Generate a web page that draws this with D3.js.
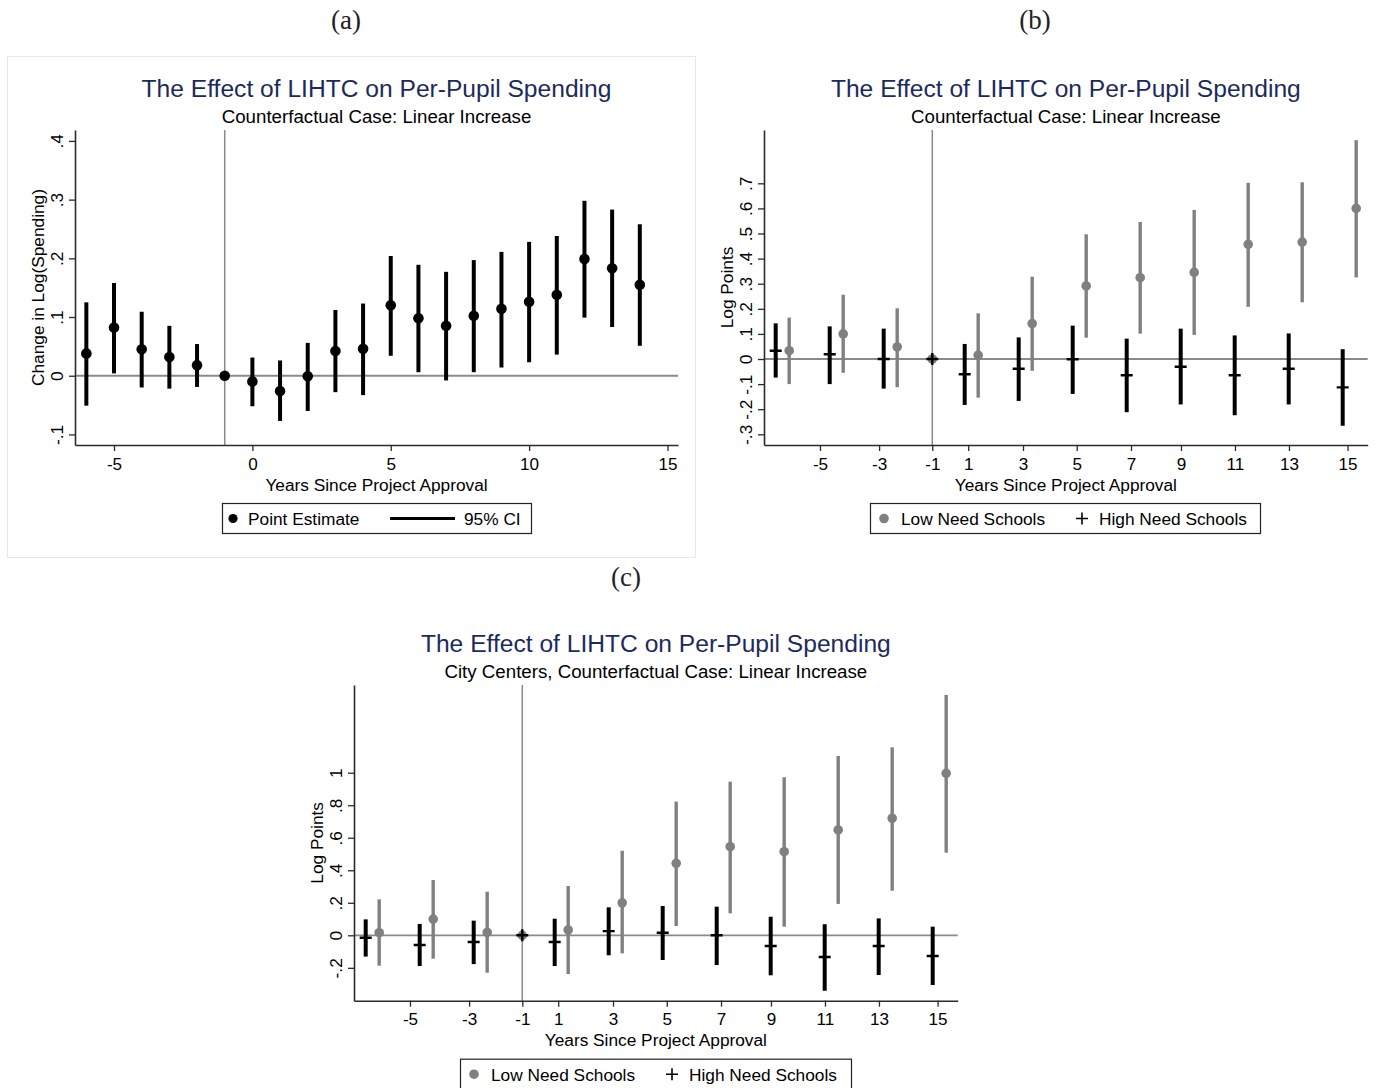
<!DOCTYPE html>
<html><head><meta charset="utf-8">
<script src="https://cdn.jsdelivr.net/npm/d3@7"></script>
<style>
body{margin:0;background:#fff}
svg{display:block}
text{font-family:"Liberation Sans",Arial,sans-serif}
</style>
</head><body>
<svg id="chart" width="1380" height="1088"></svg>
<script>
// ---------- Panel (a) data ----------
const yearsA = [-6,-5,-4,-3,-2,-1,0,1,2,3,4,5,6,7,8,9,10,11,12,13,14];
const estA = [0.038,0.082,0.045,0.032,0.018,0,-0.010,-0.026,-0.001,0.042,0.046,0.120,0.098,0.085,0.102,0.114,0.126,0.138,0.199,0.183,0.155];
const loA  = [-0.051,0.004,-0.020,-0.022,-0.019,0,-0.052,-0.077,-0.060,-0.028,-0.033,0.034,0.006,-0.008,0.006,0.014,0.023,0.036,0.099,0.083,0.051];
const hiA  = [0.125,0.158,0.109,0.085,0.054,0,0.031,0.026,0.056,0.112,0.123,0.204,0.189,0.177,0.197,0.211,0.228,0.238,0.298,0.283,0.258];
const xTicksA = [-5,0,5,10,15];
const xTickLabelsA = ["-5","0","5","10","15"];
const yTicksA = [-0.1,0,0.1,0.2,0.3,0.4];
const yTickLabelsA = ["-.1","0",".1",".2",".3",".4"];

// ---------- Panels (b) and (c) shared x positions ----------
const xHigh = [-6.8,-4.8,-2.8,-1,0.2,2.2,4.2,6.2,8.2,10.2,12.2,14.2];
const xLow  = [-6.3,-4.3,-2.3,-1,0.7,2.7,4.7,6.7,8.7,10.7,12.7,14.7];
const xTicksBC = [-5.16,-2.97,-1,0.33,2.36,4.35,6.36,8.21,10.21,12.21,14.38];
const xTickLabelsBC = ["-5","-3","-1","1","3","5","7","9","11","13","15"];

// ---------- Panel (b) data ----------
const highB   = [0.033,0.019,0.000,0,-0.061,-0.039,-0.001,-0.065,-0.031,-0.065,-0.039,-0.113];
const highBLo = [-0.074,-0.100,-0.118,0,-0.183,-0.167,-0.139,-0.212,-0.181,-0.224,-0.181,-0.266];
const highBHi = [0.142,0.130,0.121,0,0.060,0.086,0.133,0.081,0.121,0.094,0.102,0.039];
const lowB    = [0.033,0.100,0.048,0,0.015,0.141,0.291,0.324,0.345,0.457,0.466,0.600];
const lowBLo  = [-0.100,-0.055,-0.112,0,-0.154,-0.047,0.085,0.101,0.096,0.208,0.226,0.325];
const lowBHi  = [0.165,0.256,0.202,0,0.182,0.328,0.497,0.546,0.594,0.702,0.704,0.872];
const yTicksB = [-0.3,-0.2,-0.1,0,0.1,0.2,0.3,0.4,0.5,0.6,0.7];
const yTickLabelsB = ["-.3","-.2","-.1","0",".1",".2",".3",".4",".5",".6",".7"];

// ---------- Panel (c) data ----------
const highC   = [-0.015,-0.060,-0.041,0,-0.041,0.026,0.016,0.000,-0.066,-0.133,-0.066,-0.127];
const highCLo = [-0.131,-0.189,-0.177,0,-0.189,-0.123,-0.152,-0.183,-0.246,-0.341,-0.244,-0.306];
const highCHi = [0.098,0.070,0.090,0,0.102,0.172,0.180,0.176,0.114,0.068,0.104,0.053];
const lowC    = [0.016,0.100,0.018,0,0.033,0.200,0.443,0.545,0.514,0.648,0.720,0.996];
const lowCLo  = [-0.187,-0.144,-0.230,0,-0.238,-0.111,0.057,0.135,0.053,0.193,0.274,0.508];
const lowCHi  = [0.221,0.340,0.268,0,0.303,0.520,0.822,0.945,0.972,1.103,1.156,1.478];
const yTicksC = [-0.2,0,0.2,0.4,0.6,0.8,1];
const yTickLabelsC = ["-.2","0",".2",".4",".6",".8","1"];

const title = "The Effect of LIHTC on Per-Pupil Spending";
const xTitle = "Years Since Project Approval";

// ---------- styles ----------
const NAVY = "#1c2a5b";
const GRAY = "#808080";
const REF = "#8a8a8a";
const AXIS = "#2b2b2b";

const svg = d3.select("#chart");

// Panel (a) border
svg.append("rect").attr("x",7.5).attr("y",56.5).attr("width",688).attr("height",501)
  .attr("fill","none").attr("stroke","#e2eaed").attr("stroke-width",1);

function panelLabel(txt, cx, by){
  svg.append("text").attr("x",cx).attr("y",by).attr("text-anchor","middle")
    .style("font-family","'Liberation Serif','DejaVu Serif',serif").style("font-size","27px")
    .attr("fill","#222").text(txt);
}
panelLabel("(a)",346,29);
panelLabel("(b)",1035,29);
panelLabel("(c)",626,586);

function drawFrame(cfg){
  const {x, y, yTicks, yLabels, xTicks, xLabels, yTitle, sub, legend} = cfg;
  const [x0,x1] = x.range();
  const [yb,yt] = y.range();
  const cx = (x0+x1)/2;
  const g = svg.append("g");

  // titles
  g.append("text").attr("x",cx).attr("y",yt-33.5).attr("text-anchor","middle")
    .style("font-size","24.6px").attr("fill",NAVY).text(title);
  g.append("text").attr("x",cx).attr("y",yt-7.5).attr("text-anchor","middle")
    .style("font-size","18.7px").attr("fill","#000").text(sub);

  // reference lines
  g.append("line").attr("x1",x0).attr("x2",x1).attr("y1",y(0)).attr("y2",y(0))
    .attr("stroke",REF).attr("stroke-width",1.8);
  g.append("line").attr("x1",x(-1)).attr("x2",x(-1)).attr("y1",yt).attr("y2",yb)
    .attr("stroke",REF).attr("stroke-width",1.5);

  // x axis
  const xa = g.append("g").attr("transform",`translate(0,${yb})`)
    .call(d3.axisBottom(x).tickValues(xTicks).tickFormat((d,i)=>xLabels[i]).tickSize(6).tickSizeOuter(0));
  xa.select(".domain").attr("stroke",AXIS).attr("stroke-width",1.6);
  xa.selectAll(".tick line").attr("stroke",AXIS).attr("stroke-width",1.3);
  xa.selectAll(".tick text").attr("y",24.5).attr("dy",null).style("font-size","17.1px")
    .style("font-family","'Liberation Sans',Arial,sans-serif").attr("fill","#000");

  // y axis
  const ya = g.append("g").attr("transform",`translate(${x0},0)`)
    .call(d3.axisLeft(y).tickValues(yTicks).tickFormat((d,i)=>yLabels[i]).tickSize(6).tickSizeOuter(0));
  ya.select(".domain").attr("stroke",AXIS).attr("stroke-width",1.6);
  ya.selectAll(".tick line").attr("stroke",AXIS).attr("stroke-width",1.3);
  ya.selectAll(".tick text").attr("x",null).attr("dy",null)
    .attr("transform","translate(-12,0) rotate(-90)").attr("text-anchor","middle")
    .style("font-size","17.3px").style("font-family","'Liberation Sans',Arial,sans-serif").attr("fill","#000");

  // axis titles
  g.append("text").attr("x",cx).attr("y",yb+45.5).attr("text-anchor","middle")
    .style("font-size","17.3px").attr("fill","#000").text(xTitle);
  g.append("text").attr("transform",`translate(${x0-31},${(yb+yt)/2}) rotate(-90)`)
    .attr("text-anchor","middle").style("font-size","17.3px").attr("fill","#000").text(yTitle);

  // legend
  const lg = g.append("g").attr("transform",`translate(${legend.left},${yb+58})`);
  lg.append("rect").attr("x",0.5).attr("y",0.5).attr("width",legend.width).attr("height",30)
    .attr("fill","#fff").attr("stroke","#222").attr("stroke-width",1.2);
  legend.draw(lg);
  return g;
}

// ---------- Panel (a) ----------
{
  const x = d3.scaleLinear().domain([-6.41,15.38]).range([75,678]);
  const y = d3.scaleLinear().domain([-0.118,0.4186]).range([445,130]);
  const g = drawFrame({x,y,yTicks:yTicksA,yLabels:yTickLabelsA,xTicks:xTicksA,xLabels:xTickLabelsA,
    yTitle:"Change in Log(Spending)", sub:"Counterfactual Case: Linear Increase",
    legend:{left:222,width:309,draw:lg=>{
      lg.append("circle").attr("cx",11).attr("cy",15.5).attr("r",4.6).attr("fill","#000");
      lg.append("text").attr("x",26).attr("y",22).style("font-size","17.3px").text("Point Estimate");
      lg.append("line").attr("x1",168).attr("x2",233).attr("y1",15.5).attr("y2",15.5).attr("stroke","#000").attr("stroke-width",3);
      lg.append("text").attr("x",242).attr("y",22).style("font-size","17.3px").text("95% CI");
    }}});
  const idx = d3.range(yearsA.length);
  g.selectAll(".ciA").data(idx.filter(i=>hiA[i]!==loA[i])).join("line")
    .attr("x1",i=>x(yearsA[i])).attr("x2",i=>x(yearsA[i]))
    .attr("y1",i=>y(loA[i])).attr("y2",i=>y(hiA[i]))
    .attr("stroke","#000").attr("stroke-width",4);
  g.selectAll(".ptA").data(idx).join("circle")
    .attr("cx",i=>x(yearsA[i])).attr("cy",i=>y(estA[i])).attr("r",5.3).attr("fill","#000");
}

function drawGroups(g, x, y, hi, hiLo, hiHi, lo, loLo, loHi){
  const idx = d3.range(xHigh.length);
  // low need (gray)
  g.selectAll(null).data(idx.filter(i=>loLo[i]!==loHi[i])).join("line")
    .attr("x1",i=>x(xLow[i])).attr("x2",i=>x(xLow[i]))
    .attr("y1",i=>y(loLo[i])).attr("y2",i=>y(loHi[i]))
    .attr("stroke",GRAY).attr("stroke-width",3.4);
  g.selectAll(null).data(idx).join("circle")
    .attr("cx",i=>x(xLow[i])).attr("cy",i=>y(lo[i])).attr("r",4.8).attr("fill",GRAY);
  // high need (black)
  g.selectAll(null).data(idx.filter(i=>hiLo[i]!==hiHi[i])).join("line")
    .attr("x1",i=>x(xHigh[i])).attr("x2",i=>x(xHigh[i]))
    .attr("y1",i=>y(hiLo[i])).attr("y2",i=>y(hiHi[i]))
    .attr("stroke","#000").attr("stroke-width",4);
  g.selectAll(null).data(idx).join("path")
    .attr("d",i=>{const px=x(xHigh[i]), py=y(hi[i]); return `M${px-6},${py}H${px+6}M${px},${py-6}V${py+6}`;})
    .attr("stroke","#000").attr("stroke-width",2.4).attr("fill","none");
}

function needLegend(lg){
  lg.append("circle").attr("cx",14).attr("cy",15.5).attr("r",4.8).attr("fill",GRAY);
  lg.append("text").attr("x",31).attr("y",22).style("font-size","17.3px").text("Low Need Schools");
  lg.append("path").attr("d","M206,15.5H218M212,9.5V21.5").attr("stroke","#000").attr("stroke-width",1.6);
  lg.append("text").attr("x",229).attr("y",22).style("font-size","17.3px").text("High Need Schools");
}

// ---------- Panel (b) ----------
{
  const x = d3.scaleLinear().domain([-7.233,15.126]).range([764,1367.7]);
  const y = d3.scaleLinear().domain([-0.3426,0.9124]).range([445,130]);
  const g = drawFrame({x,y,yTicks:yTicksB,yLabels:yTickLabelsB,xTicks:xTicksBC,xLabels:xTickLabelsBC,
    yTitle:"Log Points", sub:"Counterfactual Case: Linear Increase",
    legend:{left:870,width:390,draw:needLegend}});
  drawGroups(g,x,y,highB,highBLo,highBHi,lowB,lowBLo,lowBHi);
}

// ---------- Panel (c) ----------
{
  const x = d3.scaleLinear().domain([-7.233,15.126]).range([354,957.7]);
  const y = d3.scaleLinear().domain([-0.4022,1.5394]).range([1000.7,685]);
  const g = drawFrame({x,y,yTicks:yTicksC,yLabels:yTickLabelsC,xTicks:xTicksBC,xLabels:xTickLabelsBC,
    yTitle:"Log Points", sub:"City Centers, Counterfactual Case: Linear Increase",
    legend:{left:460,width:391,draw:needLegend}});
  drawGroups(g,x,y,highC,highCLo,highCHi,lowC,lowCLo,lowCHi);
}
</script>
</body></html>
